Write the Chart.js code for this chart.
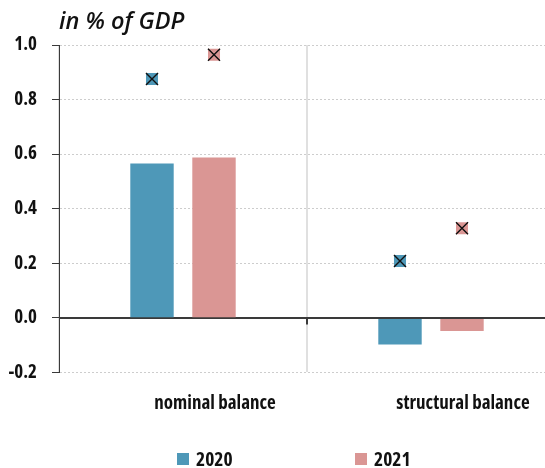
<!DOCTYPE html>
<html>
<head>
<meta charset="utf-8">
<script src="https://cdn.jsdelivr.net/npm/chart.js@4/dist/chart.umd.min.js"></script>
<style>
    html, body { margin: 0; padding: 0; background: #fff; overflow: hidden; }
    #wrap { width: 555px; height: 468px; position: relative; }
</style>
</head>
<body>
<div id="wrap"><canvas id="balanceChart"></canvas></div>
<script>
const categorias = ['nominal balance', 'structural balance'];
const series = ['2020', '2021'];
const barras2020 = [0.565, -0.098];
const barras2021 = [0.587, -0.049];
const marcas2020 = [0.875, 0.208];
const marcas2021 = [0.964, 0.328];
const ticksY = [-0.2, 0.0, 0.2, 0.4, 0.6, 0.8, 1.0];

const colores = ['#4e98b8', '#da9694'];
const FUENTE = '"Open Sans", "DejaVu Sans", sans-serif';
const CAT_PCT = 0.5;
const BAR_PCT = 0.7;

// marcas sobre cada barra: mismo reparto que Chart.js usa para barras agrupadas
function puntos(valores, serie) {
    return valores.map((v, i) => ({
        x: i + (serie - (series.length - 1) / 2) * CAT_PCT / series.length,
        y: v
    }));
}

// linea del cero por encima de las barras y marca corta entre categorias
const lineaCero = {
    id: 'lineaCero',
    afterDatasetsDraw(chart) {
        const { ctx, chartArea, scales } = chart;
        const y0 = Math.round(scales.y.getPixelForValue(0)) + 0.5;
        const xSep = Math.round((scales.x.getPixelForTick(0) + scales.x.getPixelForTick(1)) / 2);
        ctx.save();
        ctx.strokeStyle = '#3a3a3a';
        ctx.lineWidth = 1;
        ctx.beginPath();
        ctx.moveTo(chartArea.left, y0);
        ctx.lineTo(chartArea.right, y0);
        ctx.stroke();
        ctx.lineWidth = 2;
        ctx.beginPath();
        ctx.moveTo(xSep, y0);
        ctx.lineTo(xSep, y0 + 6);
        ctx.stroke();
        ctx.restore();
    }
};

// leyenda propia: dos cuadros bien separados
const leyendaAnios = {
    id: 'leyendaAnios',
    afterDraw(chart) {
        const ctx = chart.ctx;
        const posiciones = [177, 355];
        ctx.save();
        ctx.font = 'bold condensed 19.5px ' + FUENTE;
        ctx.textBaseline = 'alphabetic';
        ctx.textAlign = 'left';
        series.forEach((s, k) => {
            const x = posiciones[k];
            ctx.fillStyle = colores[k];
            ctx.fillRect(x, 453, 12, 12);
            ctx.fillStyle = '#111';
            ctx.fillText(s, x + 19, 466);
        });
        ctx.restore();
    }
};

function cargarGrafico() {
    const ctx = document.getElementById('balanceChart').getContext('2d');
    const marca = { type: 'scatter', parsing: false, showLine: false };
    new Chart(ctx, {
        type: 'bar',
        data: {
            labels: categorias,
            datasets: [
                Object.assign({}, marca, {
                    label: 'x2020', order: 0, data: puntos(marcas2020, 0),
                    pointStyle: 'crossRot', pointRadius: 8.5, pointBorderColor: '#111', pointBorderWidth: 1.4,
                    pointBackgroundColor: 'transparent'
                }),
                Object.assign({}, marca, {
                    label: 'x2021', order: 0, data: puntos(marcas2021, 1),
                    pointStyle: 'crossRot', pointRadius: 8.5, pointBorderColor: '#111', pointBorderWidth: 1.4,
                    pointBackgroundColor: 'transparent'
                }),
                Object.assign({}, marca, {
                    label: 'm2020', order: 1, data: puntos(marcas2020, 0),
                    pointStyle: 'rect', pointRadius: 8.5, pointBorderWidth: 0,
                    pointBackgroundColor: colores[0]
                }),
                Object.assign({}, marca, {
                    label: 'm2021', order: 1, data: puntos(marcas2021, 1),
                    pointStyle: 'rect', pointRadius: 8.5, pointBorderWidth: 0,
                    pointBackgroundColor: colores[1]
                }),
                {
                    type: 'bar', label: series[0], order: 2,
                    data: barras2020, backgroundColor: colores[0],
                    categoryPercentage: CAT_PCT, barPercentage: BAR_PCT
                },
                {
                    type: 'bar', label: series[1], order: 2,
                    data: barras2021, backgroundColor: colores[1],
                    categoryPercentage: CAT_PCT, barPercentage: BAR_PCT
                }
            ]
        },
        options: {
            responsive: true,
            maintainAspectRatio: false,
            animation: false,
            layout: { autoPadding: false, padding: { left: 0, right: 0, top: 0, bottom: 33 } },
            plugins: {
                legend: { display: false },
                tooltip: { enabled: false },
                title: {
                    display: true,
                    text: 'in % of GDP',
                    align: 'start',
                    fullSize: false,
                    color: '#111',
                    font: { family: FUENTE, size: 23.5, style: 'italic', weight: '600', lineHeight: 1.2 },
                    padding: { top: 8.7, bottom: 8.1 }
                }
            },
            scales: {
                x: {
                    type: 'category',
                    offset: true,
                    grid: { display: true, offset: true, drawTicks: false, color: '#e0e0e0', lineWidth: 2 },
                    border: { display: false },
                    ticks: {
                        color: '#111',
                        padding: 20,
                        labelOffset: 32,
                        maxRotation: 0,
                        font: { family: FUENTE, size: 19, weight: 'bold condensed' }
                    }
                },
                y: {
                    min: ticksY[0],
                    max: ticksY[ticksY.length - 1],
                    afterBuildTicks: scale => { scale.ticks = ticksY.map(v => ({ value: v })); },
                    afterFit: scale => { scale.width = 59; },
                    grid: {
                        color: c => c.tick && c.tick.value === 0 ? '#3a3a3a' : '#cdcdcd',
                        lineWidth: 1,
                        tickLength: 7,
                        tickColor: '#3a3a3a',
                        tickBorderDash: []
                    },
                    border: {
                        display: true,
                        color: '#3a3a3a',
                        width: 1,
                        dash: c => c.tick && c.tick.value === 0 ? [] : [2, 2]
                    },
                    ticks: {
                        color: '#111',
                        padding: 15,
                        font: { family: FUENTE, size: 19, weight: 'bold condensed' },
                        callback: v => v.toFixed(1)
                    }
                }
            }
        },
        plugins: [lineaCero, leyendaAnios]
    });
}

cargarGrafico();
</script>
</body>
</html>
